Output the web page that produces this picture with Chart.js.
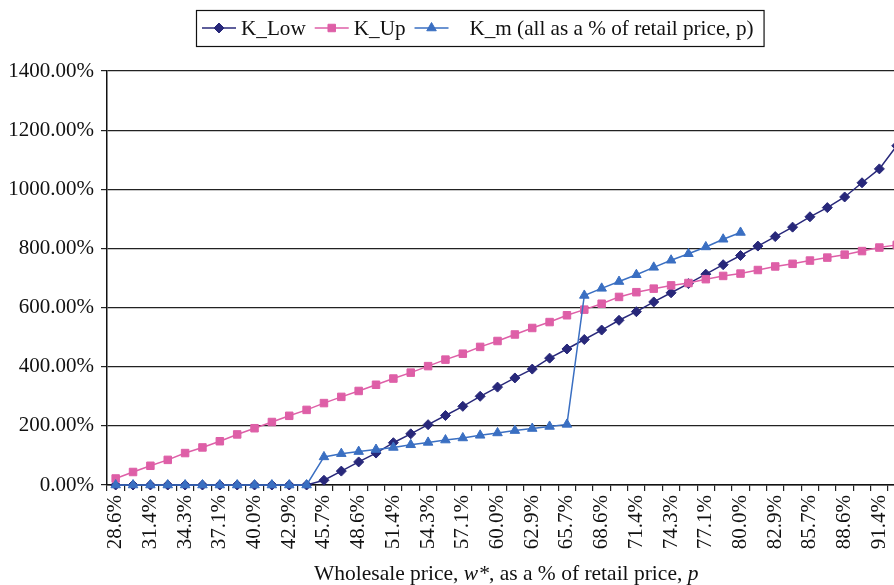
<!DOCTYPE html>
<html>
<head>
<meta charset="utf-8">
<script src="https://cdn.jsdelivr.net/npm/chart.js@4/dist/chart.umd.min.js"></script>
<style>
  html, body { margin: 0; padding: 0; background: #fff; overflow: hidden; }
  #wrap { position: relative; width: 926px; height: 585px; }
</style>
</head>
<body>
<div id="wrap"><canvas id="c" width="926" height="585"></canvas></div>
<script>
// Wholesale price w* as a share of retail price p (category axis)
const categories = [
  '28.6%', '30.0%', '31.4%', '32.9%', '34.3%', '35.7%', '37.1%', '38.6%', '40.0%', '41.4%',
  '42.9%', '44.3%', '45.7%', '47.1%', '48.6%', '50.0%', '51.4%', '52.9%', '54.3%', '55.7%',
  '57.1%', '58.6%', '60.0%', '61.4%', '62.9%', '64.3%', '65.7%', '67.1%', '68.6%', '70.0%',
  '71.4%', '72.9%', '74.3%', '75.7%', '77.1%', '78.6%', '80.0%', '81.4%', '82.9%', '84.3%',
  '85.7%', '87.1%', '88.6%', '90.0%', '91.4%', '92.9%'
];

// Values in % of retail price
const kLow = [
  0, 0, 0, 0, 0, 0, 0, 0, 0, 0,
  0, 0, 16, 47, 78, 108, 143, 173, 204, 235,
  266, 300, 331, 362, 392, 429, 460, 492, 524, 557,
  586, 619, 650, 681, 713, 745, 776, 808, 840, 872,
  907, 938, 974, 1022, 1069, 1147
];

const kUp = [
  22, 44, 65, 85, 108, 127, 148, 171, 192, 213,
  234, 254, 277, 298, 318, 339, 360, 380, 402, 424,
  444, 467, 487, 509, 531, 551, 574, 593, 613, 636,
  652, 664, 675, 683, 696, 707, 715, 727, 739, 748,
  759, 769, 779, 791, 803, 812
];

const kM = [
  0, 0, 0, 0, 0, 0, 0, 0, 0, 0,
  0, 0, 95, 106, 113, 120, 127, 136, 144, 152,
  159, 168, 176, 184, 191, 198, 205, 641, 665, 688,
  711, 736, 760, 782, 805, 831, 854, null, null, null,
  null, null, null, null, null, null
];

const seriesNames = ['K_Low', 'K_Up', '   K_m (all as a % of retail price, p)'];
const seriesColors = ['#28287a', '#de5fa7', '#3a6fc2'];
const seriesStyles = ['rectRot', 'rect', 'triangle'];
const seriesRadius = [5, 5.3, 5.5];

const yMin = 0, yMax = 1400, yStep = 200;

const FONT = '"Liberation Serif", "Times New Roman", serif';

// Boxed legend with line-and-marker keys, drawn above the plot
const boxedLegend = {
  id: 'boxedLegend',
  afterDraw(chart) {
    const ctx = chart.ctx;
    const cy = 28;
    let x = 202;
    ctx.save();
    ctx.font = '21.2px ' + FONT;
    ctx.textBaseline = 'middle';
    ctx.textAlign = 'left';
    chart.data.datasets.forEach((ds) => {
      ctx.strokeStyle = ds.borderColor;
      ctx.lineWidth = 1.5;
      ctx.beginPath();
      ctx.moveTo(x, cy);
      ctx.lineTo(x + 34, cy);
      ctx.stroke();
      ctx.fillStyle = ds.pointBackgroundColor;
      ctx.strokeStyle = ds.pointBorderColor;
      ctx.lineWidth = 1;
      Chart.helpers.drawPoint(ctx, {
        pointStyle: ds.pointStyle, radius: ds.pointRadius, rotation: 0, borderWidth: 1
      }, x + 17, cy);
      ctx.fillStyle = '#111';
      ctx.fillText(ds.label, x + 39, cy + 1);
      x += 39 + ctx.measureText(ds.label).width + 9;
    });
    ctx.strokeStyle = '#111';
    ctx.lineWidth = 1.2;
    ctx.strokeRect(196.5, 10.5, x - 196 + 1, 36);
    ctx.restore();
  }
};

// X-axis title with italic symbols
const axisTitle = {
  id: 'axisTitle',
  afterDraw(chart) {
    const ctx = chart.ctx;
    const parts = [
      ['Wholesale price, ', false],
      ['w*', true],
      [', as a % of retail price, ', false],
      ['p', true]
    ];
    ctx.save();
    ctx.fillStyle = '#111';
    ctx.textBaseline = 'alphabetic';
    ctx.textAlign = 'left';
    let total = 0;
    parts.forEach(([t, it]) => {
      ctx.font = (it ? 'italic ' : '') + '21.5px ' + FONT;
      total += ctx.measureText(t).width;
    });
    const area = chart.chartArea;
    let x = (area.left + area.right) / 2 - total / 2;
    parts.forEach(([t, it]) => {
      ctx.font = (it ? 'italic ' : '') + '21.5px ' + FONT;
      ctx.fillText(t, x, 580);
      x += ctx.measureText(t).width;
    });
    ctx.restore();
  }
};

const datasets = [kLow, kUp, kM].map((values, i) => ({
  label: seriesNames[i],
  data: values,
  borderColor: seriesColors[i],
  backgroundColor: seriesColors[i],
  pointBackgroundColor: seriesColors[i],
  pointBorderColor: seriesColors[i],
  pointStyle: seriesStyles[i],
  pointRadius: seriesRadius[i],
  pointBorderWidth: 1,
  borderWidth: 1.5,
  tension: 0,
  fill: false,
  spanGaps: false,
  clip: false,
  order: 2 - i
}));

new Chart(document.getElementById('c'), {
  type: 'line',
  data: { labels: categories, datasets },
  plugins: [boxedLegend, axisTitle],
  options: {
    responsive: false,
    animation: false,
    devicePixelRatio: 1,
    layout: { padding: { top: 71, left: 0, right: 0, bottom: 0 } },
    plugins: {
      legend: { display: false },
      tooltip: { enabled: false },
      title: { display: false }
    },
    scales: {
      x: {
        type: 'category',
        offset: true,
        grid: {
          display: true,
          offset: true,
          drawOnChartArea: false,
          drawTicks: true,
          tickLength: 6,
          color: '#222',
          lineWidth: 1.2
        },
        border: { display: true, color: '#111', width: 1.5 },
        ticks: {
          autoSkip: false,
          minRotation: 90,
          maxRotation: 90,
          padding: 4,
          color: '#111',
          font: { family: FONT, size: 21 },
          callback: (v, i) => (i % 2 === 0 ? categories[i] : '')
        },
        afterFit: (scale) => { scale.height = 100; }
      },
      y: {
        min: yMin,
        max: yMax,
        grid: {
          color: '#222',
          lineWidth: 1.2,
          drawTicks: true,
          tickLength: 6
        },
        border: { display: true, color: '#111', width: 1.5 },
        ticks: {
          stepSize: yStep,
          padding: 7,
          color: '#111',
          font: { family: FONT, size: 21 },
          callback: (v) => Number(v).toFixed(2) + '%'
        },
        afterFit: (scale) => { scale.width = 107; }
      }
    }
  }
});
</script>
</body>
</html>
